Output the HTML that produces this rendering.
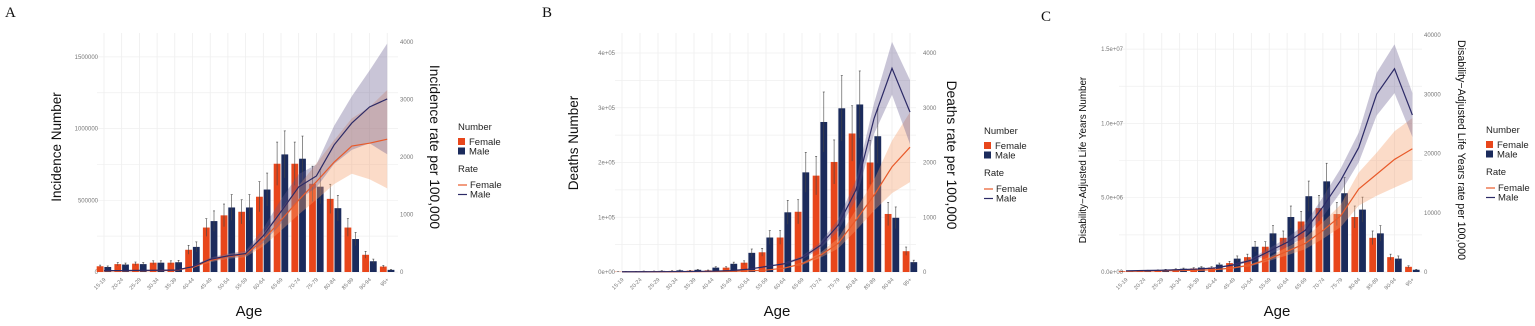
<!DOCTYPE html>
<html><head><meta charset="utf-8"><style>
body{margin:0;background:#fff;}
svg{display:block;font-family:"Liberation Sans",sans-serif;}
</style></head><body>
<svg id="s" width="1535" height="326" xmlns="http://www.w3.org/2000/svg"></svg>
<script>
const S=document.getElementById('s');let h='';
const ages=['15-19','20-24','25-29','30-34','35-39','40-44','45-49','50-54','55-59','60-64','65-69','70-74','75-79','80-84','85-89','90-94','95+'];
function panel(p){
 const {x0,dx,y0,ly,ry,left,right,lTicks,rTicks,lLab,rLab,lx,rx,tlx,trx,tly,try_,ltitle,rtitle,lfs,rfs,F,M,RF,RM,BF,BM,lg,letter,ptop,pl,pr,ageX}=p;
 for(let i=0;i<17;i++){const x=x0+i*dx;h+=`<line x1="${x}" x2="${x}" y1="${ptop}" y2="${y0}" stroke="#ececec" stroke-width="0.7"/>`;}
 const step=(ly(lTicks[1])-ly(lTicks[0]))/2;
 for(let y=y0;y>=ptop;y+=step){h+=`<line x1="${pl}" x2="${pr}" y1="${y}" y2="${y}" stroke="#efefef" stroke-width="0.7"/>`;}
 lTicks.forEach((t,i)=>{h+=`<text x="${lx}" y="${ly(t)+2}" font-size="6" fill="#777" text-anchor="end">${lLab[i]}</text>`;});
 rTicks.forEach((t,i)=>{h+=`<text x="${rx}" y="${ry(t)+2}" font-size="6" fill="#777">${rLab[i]}</text>`;});
 for(let i=0;i<17;i++){const c=x0+i*dx;
  [[F[i],'#e8461b',c-7.3],[M[i],'#1b2b5c',c+0.4]].forEach(([v,col,bx])=>{const y=ly(v);h+=`<rect x="${bx}" y="${y}" width="6.8" height="${y0-y}" fill="${col}"/>`;
   const e=(y0-y)*0.2;h+=`<line x1="${bx+3.4}" x2="${bx+3.4}" y1="${y-e}" y2="${Math.min(y0,y+e)}" stroke="#444" stroke-width="0.6"/><line x1="${bx+2.4}" x2="${bx+4.4}" y1="${y-e}" y2="${y-e}" stroke="#444" stroke-width="0.6"/>`;});
 }
 function band(R,B,col){let up=[],lo=[];for(let i=0;i<17;i++){const x=x0+i*dx;up.push(x+','+ry(R[i]*(1+B[i])));lo.unshift(x+','+ry(R[i]*(1-B[i])));}h+=`<polygon points="${up.concat(lo).join(' ')}" fill="${col}"/>`;}
 band(RF,BF,'rgba(245,160,110,0.38)');band(RM,BM,'rgba(100,90,140,0.35)');
 h+=`<polyline points="${RF.map((v,i)=>(x0+i*dx)+','+ry(v)).join(' ')}" fill="none" stroke="#e85a2a" stroke-width="1.2"/>`;
 h+=`<polyline points="${RM.map((v,i)=>(x0+i*dx)+','+ry(v)).join(' ')}" fill="none" stroke="#2c2a66" stroke-width="1.2"/>`;
 ages.forEach((a,i)=>{const x=x0+i*dx;h+=`<text transform="translate(${x+2},${y0+8}) rotate(-45)" font-size="5.5" fill="#777" text-anchor="end">${a}</text>`;});
 h+=`<text x="${ageX}" y="316" font-size="15" text-anchor="middle" fill="#111">Age</text>`;
 h+=`<text transform="translate(${tlx},${tly}) rotate(-90)" font-size="${lfs}" text-anchor="middle" fill="#111">${ltitle}</text>`;
 h+=`<text transform="translate(${trx},${try_}) rotate(90)" font-size="${rfs}" text-anchor="middle" fill="#111">${rtitle}</text>`;
 const [gx,gy]=lg;
 h+=`<text x="${gx}" y="${gy}" font-size="9.5" fill="#222">Number</text>
 <rect x="${gx}" y="${gy+8}" width="7" height="7" fill="#e8461b"/><rect x="${gx}" y="${gy+17.5}" width="7" height="7" fill="#1b2b5c"/>
 <text x="${gx+11}" y="${gy+15}" font-size="9.5" fill="#222">Female</text><text x="${gx+11}" y="${gy+24.5}" font-size="9.5" fill="#222">Male</text>
 <text x="${gx}" y="${gy+42}" font-size="9.5" fill="#222">Rate</text>
 <line x1="${gx}" x2="${gx+9}" y1="${gy+55}" y2="${gy+55}" stroke="#e85a2a" stroke-width="1.2"/><line x1="${gx}" x2="${gx+9}" y1="${gy+64.5}" y2="${gy+64.5}" stroke="#2c2a66" stroke-width="1.2"/>
 <text x="${gx+12}" y="${gy+58}" font-size="9.5" fill="#222">Female</text><text x="${gx+12}" y="${gy+67.5}" font-size="9.5" fill="#222">Male</text>`;
 h+=`<text x="${letter[0]}" y="${letter[1]}" font-size="15" font-family="Liberation Serif,serif" fill="#111">${letter[2]}</text>`;
}
function lin(y0,v,px){return t=>y0-t/v*px;}
panel({x0:104,dx:17.7,y0:272,ptop:33,pl:97,pr:398,ly:lin(272,500000,71.7),ry:lin(272,1000,57.5),
 lTicks:[0,500000,1000000,1500000],lLab:['0','500000','1000000','1500000'],rTicks:[0,1000,2000,3000,4000],rLab:['0','1000','2000','3000','4000'],lx:98,rx:400,
 tlx:61,tly:147,trx:430,try_:147,ltitle:'Incidence Number',rtitle:'Incidence rate per 100,000',lfs:13.5,rfs:13.8,
 F:[40e3,55e3,58e3,65e3,65e3,155e3,310e3,395e3,420e3,525e3,755e3,755e3,615e3,510e3,310e3,120e3,38e3],
 M:[35e3,52e3,55e3,65e3,68e3,175e3,355e3,450e3,450e3,575e3,820e3,790e3,595e3,445e3,230e3,75e3,15e3],
 RF:[20,20,22,25,28,80,200,270,305,560,900,1250,1570,1910,2190,2240,2310],
 RM:[25,25,28,30,32,90,220,280,320,630,1050,1480,1670,2210,2590,2870,3010],
 BF:[.15,.15,.15,.15,.15,.15,.15,.15,.15,.2,.2,.2,.2,.2,.22,.28,.37],
 BM:[.15,.15,.15,.15,.15,.15,.15,.15,.15,.2,.2,.15,.12,.15,.18,.22,.32],
 lg:[458,130],letter:[5,17,'A'],ageX:249});
panel({x0:622,dx:18,y0:272,ptop:33,pl:615,pr:916,ly:lin(272,100000,54.75),ry:lin(272,1000,54.75),
 lTicks:[0,1e5,2e5,3e5,4e5],lLab:['0e+00','1e+05','2e+05','3e+05','4e+05'],rTicks:[0,1000,2000,3000,4000],rLab:['0','1000','2000','3000','4000'],lx:615,rx:923,
 tlx:578,tly:143,trx:947,try_:155,ltitle:'Deaths Number',rtitle:'Deaths rate per 100,000',lfs:13.5,rfs:13.8,
 F:[500,1000,1500,2000,2500,3000,8000,17000,36000,63000,110000,176000,201000,253000,200000,106000,38000],
 M:[1000,1500,2000,3000,4000,8000,15000,35000,63000,109000,182000,274000,299000,306000,248000,99000,18000],
 RF:[3,3,4,5,6,8,12,20,35,70,150,300,520,950,1400,1920,2280],
 RM:[4,5,6,8,10,15,25,50,100,150,260,480,850,1500,2800,3720,2920],
 BF:[.1,.1,.1,.1,.1,.1,.1,.1,.1,.1,.15,.15,.18,.2,.2,.25,.28],
 BM:[.1,.1,.1,.1,.1,.1,.1,.1,.1,.1,.12,.12,.12,.12,.1,.13,.2],
 lg:[984,134],letter:[542,17,'B'],ageX:777});
panel({x0:1126,dx:17.9,y0:272,ptop:33,pl:1119,pr:1422,ly:lin(272,5e6,74.3),ry:lin(272,10000,59.25),
 lTicks:[0,5e6,1e7,1.5e7],lLab:['0.0e+00','5.0e+06','1.0e+07','1.5e+07'],rTicks:[0,10000,20000,30000,40000],rLab:['0','10000','20000','30000','40000'],lx:1123,rx:1424,
 tlx:1086,tly:160,trx:1458,try_:150,ltitle:'Disability−Adjusted Life Years Number',rtitle:'Disability−Adjusted Life Years rate per 100,000',lfs:9.8,rfs:10.6,
 F:[.05,.08,.12,.18,.24,.3,.6,1.0,1.7,2.3,3.4,4.3,3.9,3.7,2.3,1.0,.35].map(v=>v*1e6),
 M:[.05,.1,.15,.22,.3,.5,.9,1.7,2.6,3.7,5.1,6.1,5.3,4.2,2.6,.9,.15].map(v=>v*1e6),
 RF:[100,150,200,250,300,400,700,1200,2200,3500,4800,7000,9500,14000,16500,19000,20800],
 RM:[200,250,300,400,500,700,1200,2000,3500,5000,7000,11000,15500,21000,30000,34300,26500],
 BF:[.15,.15,.15,.15,.15,.15,.15,.15,.15,.2,.2,.2,.2,.2,.22,.25,.25],
 BM:[.15,.15,.15,.15,.15,.15,.15,.15,.15,.15,.15,.15,.13,.12,.12,.12,.14],
 lg:[1486,133],letter:[1041,21,'C'],ageX:1277});
S.innerHTML=h;
</script>
</body></html>
